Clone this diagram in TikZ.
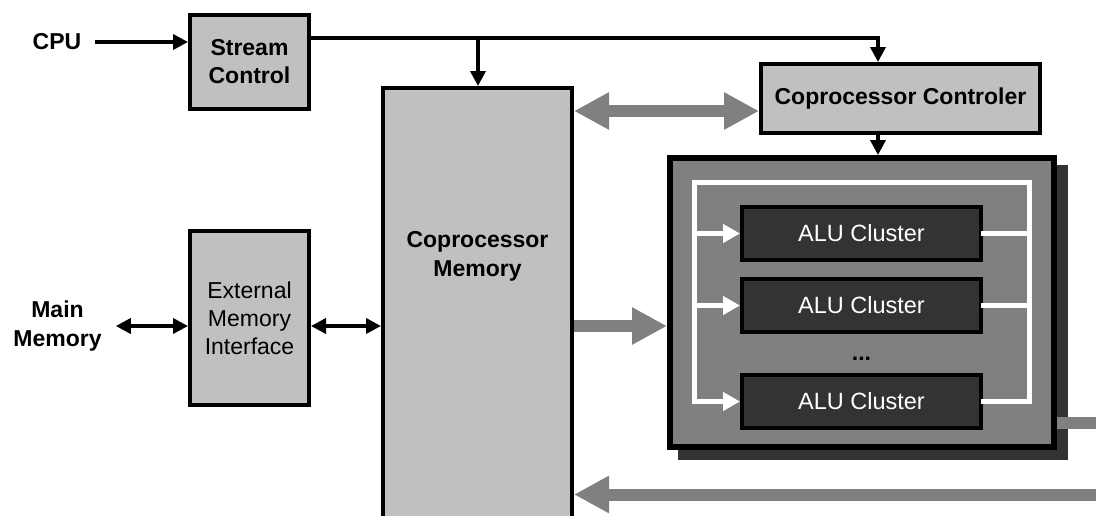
\documentclass[tikz,border=0pt]{standalone}
\usepackage{fontspec}
\setmainfont{Liberation Sans}
\usetikzlibrary{arrows.meta,calc,positioning,backgrounds}
\definecolor{boxg}{RGB}{192,192,192}
\definecolor{busg}{RGB}{128,128,128}
\definecolor{aluc}{RGB}{51,51,51}

\begin{document}
\begin{tikzpicture}[x=1pt,y=-1pt,line join=miter,
  blk/.style={draw,line width=4pt,fill=boxg,align=center,inner sep=0pt,font=\fontsize{23}{28}\selectfont\bfseries},
  lbl/.style={align=center,inner sep=14pt,font=\fontsize{23}{29}\selectfont\bfseries},
  alu/.style={draw,line width=4pt,fill=aluc,text=white,inner sep=0pt,minimum width=239pt,minimum height=53pt,font=\fontsize{23.5}{28}\selectfont},
  arr/.style={line width=3.6pt,-{Triangle[length=15pt,width=15pt]}},
  darr/.style={line width=3.6pt,{Triangle[length=15pt,width=15pt]}-{Triangle[length=15pt,width=15pt]}},
  wline/.style={draw=white,line width=5pt,line cap=rect},
  warr/.style={wline,-{Triangle[length=17pt,width=18pt]}},
  fatline/.style={draw=busg,line width=12pt},
  fat/.style={fatline,-{Triangle[length=35pt,width=35pt]}},
  dfat/.style={fatline,{Triangle[length=35pt,width=35pt]}-{Triangle[length=35pt,width=35pt]}}]
  \useasboundingbox (0,0) rectangle (1096,515);
  \clip (0,0) rectangle (1096,515);
  % boxes
  \node[lbl] (cpu) at (57,42) {CPU};
  \node[lbl] (mm) at (57.5,326) {Main\\Memory};
  \node[blk,minimum width=119pt,minimum height=94pt] (sc) at (249.5,62) {Stream\\Control};
  \node[blk,font=\fontsize{23}{28}\selectfont,minimum width=119pt,minimum height=174pt] (emi) at (249.5,318) {External\\Memory\\Interface};
  \node[blk,minimum width=189pt,minimum height=450pt] (mem) at (477.5,313) {};
  \node[lbl] (memlbl) at ([yshift=-170pt]mem.north) {Coprocessor\\Memory};
  \node[blk,minimum width=279pt,minimum height=69pt] (ctrl) at (900.5,98.5) {Coprocessor Controler};
  \node[draw,line width=6pt,fill=busg,minimum width=384pt,minimum height=289pt] (pe) at (862,302.5) {};
  \begin{scope}[on background layer]
    \fill[aluc] ([xshift=11pt,yshift=-10pt]pe.south west) rectangle ([xshift=11pt,yshift=-10pt]pe.north east);
  \end{scope}
  % clusters
  \node[alu] (alu1) at (861.5,233.5) {ALU Cluster};
  \node[alu,below=15pt of alu1] (alu2) {ALU Cluster};
  \node[alu,below=39pt of alu2] (alu3) {ALU Cluster};
  \node[font=\fontsize{23}{28}\selectfont\bfseries] (dots) at ($(alu2)!0.55!(alu3)$) {...};
  \coordinate (bl) at (694.5,182.5);
  \coordinate (br) at (1029.5,182.5);
  \draw[wline] (bl|-alu3.west) -- (bl) -- (br) -- (br|-alu3.east);
  \foreach \i in {1,2,3} {
    \draw[warr] (bl|-alu\i.west) -- (alu\i.west);
    \draw[wline] (alu\i.east) -- (br|-alu\i.east);
  }
  % control lines
  \coordinate (tap) at (478,38);
  \coordinate (bend) at (878,38);
  \draw[arr] (cpu.east) -- (sc.west|-cpu);
  \draw[arr] (sc.east|-bend) -- (bend) -- (bend|-ctrl.north);
  \draw[arr] (tap) -- (tap|-mem.north);
  \draw[arr] (bend|-ctrl.south) -- (bend|-pe.north);
  \draw[darr] (mm.east) -- (emi.west|-mm);
  \draw[darr] (emi.east|-mm) -- (mem.west|-mm);
  % data paths
  \coordinate (link) at ([yshift=-12.5pt]ctrl.west);
  \coordinate (rout) at (1100,423);
  \coordinate (rin) at (1100,494.5);
  \draw[dfat] (mem.east|-link) -- (link);
  \draw[fat] (mem.east|-mm) -- (pe.west|-mm);
  \draw[fatline] (pe.east|-rout) -- (rout);
  \draw[fat] (rin) -- (mem.east|-rin);
\end{tikzpicture}
\end{document}
